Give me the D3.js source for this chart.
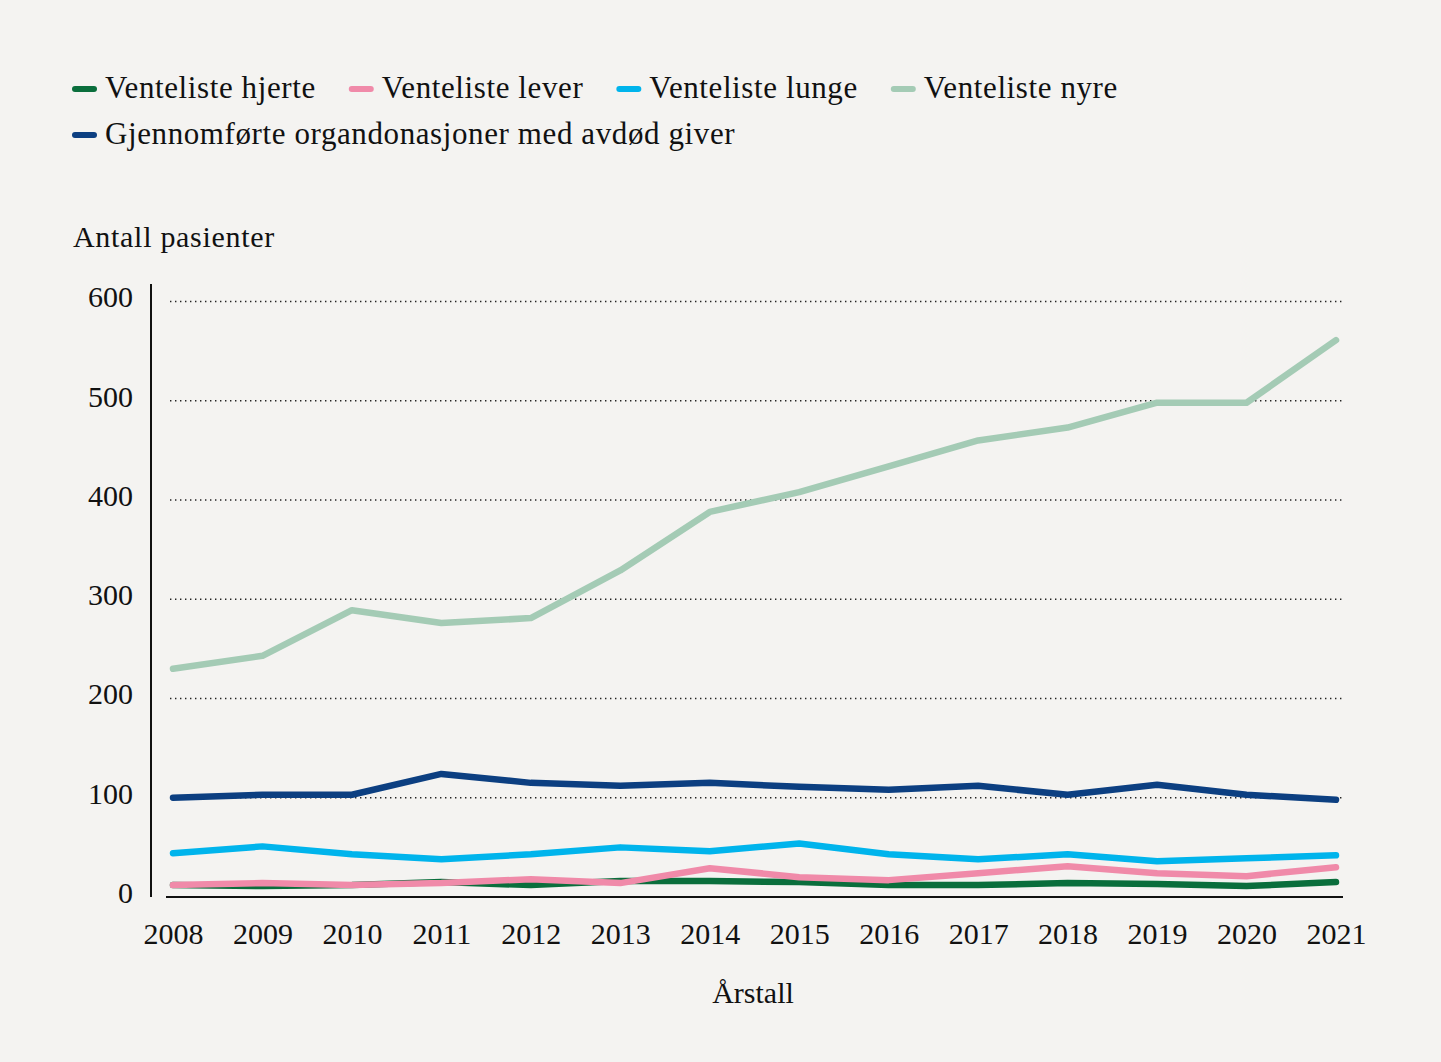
<!DOCTYPE html>
<html lang="no">
<head>
<meta charset="UTF-8">
<title>Venteliste organdonasjon</title>
<script src="https://d3js.org/d3.v7.min.js"></script>
<style>
  html, body { margin: 0; padding: 0; background: #f4f3f1; }
  svg text { font-family: "Liberation Serif", "DejaVu Serif", serif; fill: #111; }
</style>
</head>
<body>
<script>
// data
const years = ["2008", "2009", "2010", "2011", "2012", "2013", "2014",
               "2015", "2016", "2017", "2018", "2019", "2020", "2021"];
const hjerte = [12, 11, 12, 15, 12, 16, 16, 15, 12, 12, 14, 13, 11, 15];
const lever  = [12, 14, 12, 14, 18, 14, 29, 20, 17, 24, 31, 24, 21, 30];
const lunge  = [44, 51, 43, 38, 43, 50, 46, 54, 43, 38, 43, 36, 39, 42];
const nyre   = [230, 243, 289, 276, 281, 329, 388, 408, 434, 460, 473, 498, 498, 561];
const donasjoner = [100, 103, 103, 124, 115, 112, 115, 111, 108, 112, 103, 113, 103, 98];
const yTicks = [0, 100, 200, 300, 400, 500, 600];

const series = [
  { name: "Venteliste hjerte", values: hjerte, color: "#0a6e3c" },
  { name: "Venteliste lever", values: lever, color: "#f08aa9" },
  { name: "Venteliste lunge", values: lunge, color: "#00b4ec" },
  { name: "Venteliste nyre", values: nyre, color: "#a4cbb5" },
  { name: "Gjennomførte organdonasjoner med avdød giver", values: donasjoner, color: "#0c3f81" }
];

const W = 1441, H = 1062;
const svg = d3.select("body").append("svg")
  .attr("width", W).attr("height", H);

svg.append("rect").attr("width", W).attr("height", H).attr("fill", "#f4f3f1");

// scales
const x = d3.scalePoint().domain(years).range([173, 1336]);
const y = d3.scaleLinear().domain([0, 600]).range([897, 301.5]);

// gridlines (dotted), not at 0
svg.append("g").selectAll("line")
  .data(yTicks.filter(d => d > 0))
  .join("line")
  .attr("x1", 170).attr("x2", 1343)
  .attr("y1", d => y(d)).attr("y2", d => y(d))
  .attr("stroke", "#222").attr("stroke-width", 1.4)
  .attr("stroke-dasharray", "1.4,3.6");

// y axis
const yAxis = svg.append("g")
  .attr("transform", "translate(151,0)")
  .call(d3.axisLeft(y).tickValues(yTicks).tickSize(0).tickPadding(18));
yAxis.select(".domain").remove();
yAxis.selectAll("text")
  .attr("font-family", "Liberation Serif, serif")
  .attr("font-size", 30).attr("fill", "#111").attr("dy", "0.18em");
svg.append("line")
  .attr("x1", 151).attr("x2", 151).attr("y1", 284).attr("y2", 897)
  .attr("stroke", "#111").attr("stroke-width", 2);

// x axis
const xAxis = svg.append("g")
  .attr("transform", "translate(0,897)")
  .call(d3.axisBottom(x).tickSize(0).tickPadding(26));
xAxis.select(".domain").remove();
xAxis.selectAll("text")
  .attr("font-family", "Liberation Serif, serif")
  .attr("font-size", 30).attr("fill", "#111");
svg.append("line")
  .attr("x1", 166).attr("x2", 1343).attr("y1", 897).attr("y2", 897)
  .attr("stroke", "#111").attr("stroke-width", 2);

// axis titles
svg.append("text").attr("x", 73).attr("y", 247)
  .attr("font-size", 30).attr("letter-spacing", 0.7)
  .text("Antall pasienter");
svg.append("text").attr("x", 753).attr("y", 1003)
  .attr("text-anchor", "middle").attr("font-size", 30)
  .text("Årstall");

// lines
const line = d3.line()
  .x((d, i) => x(years[i]))
  .y(d => y(d));

const drawOrder = [3, 4, 2, 0, 1];
svg.append("g").selectAll("path")
  .data(drawOrder.map(i => series[i]))
  .join("path")
  .attr("d", d => line(d.values))
  .attr("fill", "none")
  .attr("stroke", d => d.color)
  .attr("stroke-width", 6.5)
  .attr("stroke-linejoin", "round")
  .attr("stroke-linecap", "round");

// legend
const legend = svg.append("g");
const rows = [[0, 1, 2, 3], [4]];
rows.forEach((row, r) => {
  let cx = 75;
  const cy = 89 + r * 46;
  row.forEach(i => {
    const s = series[i];
    legend.append("line")
      .attr("x1", cx).attr("x2", cx + 19)
      .attr("y1", cy).attr("y2", cy)
      .attr("stroke", s.color).attr("stroke-width", 6)
      .attr("stroke-linecap", "round");
    const t = legend.append("text")
      .attr("x", cx + 30).attr("y", cy + 9)
      .attr("font-size", 31).attr("letter-spacing", 0.6)
      .text(s.name);
    cx = cx + 30 + t.node().getComputedTextLength() + 36;
  });
});
</script>
</body>
</html>
